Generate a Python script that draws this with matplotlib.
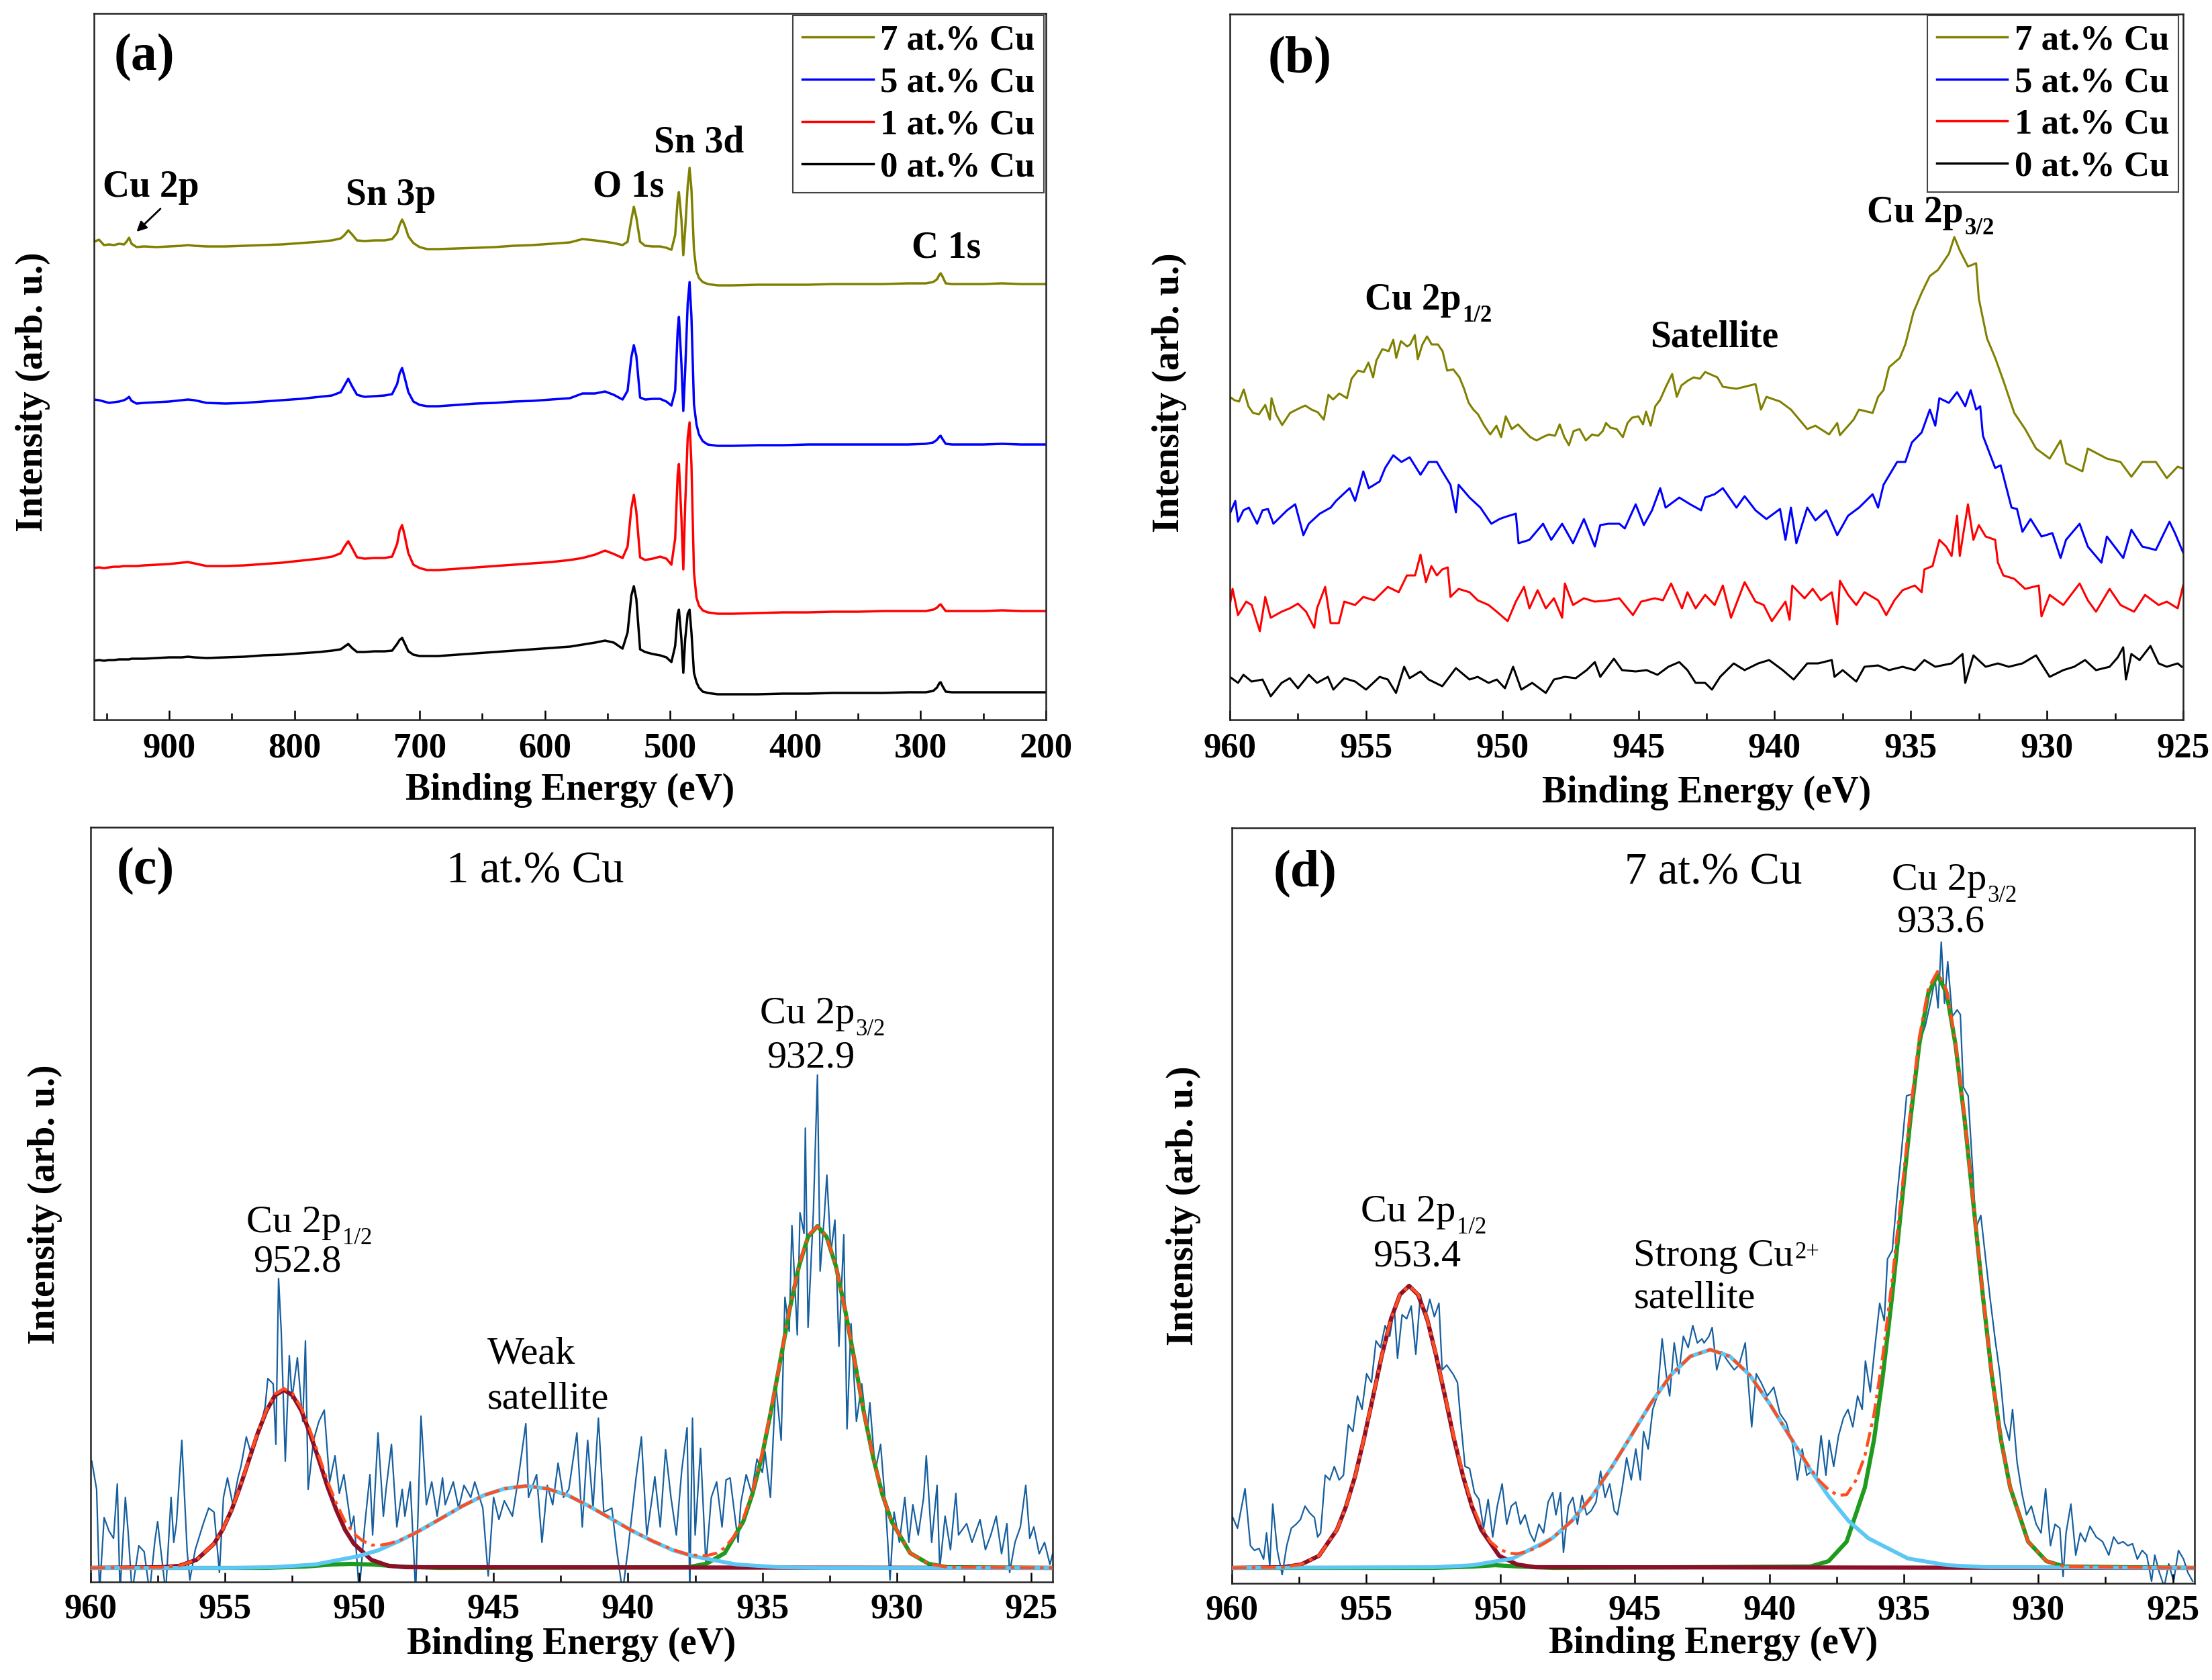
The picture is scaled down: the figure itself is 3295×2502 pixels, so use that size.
import matplotlib
matplotlib.use("Agg")
import matplotlib.pyplot as plt
from matplotlib.lines import Line2D
from matplotlib.ticker import MultipleLocator

plt.rcParams["font.family"] = "Liberation Serif"
plt.rcParams["font.weight"] = "bold"
plt.rcParams["axes.linewidth"] = 1.8

# ---------------- (a) survey spectra, binding energy (eV) vs intensity (arb.)
survey_be = [960, 956, 952, 948, 944, 940, 936, 934, 932, 930,
             926, 920, 910, 900, 890, 885, 880, 870, 855, 840,
             825, 810, 795, 780, 770, 763, 760, 757, 754, 750,
             744, 736, 728, 722, 718, 716, 714, 712, 709, 705,
             700, 694, 685, 670, 655, 640, 625, 610, 595, 580,
             570, 560, 552, 545, 538, 534, 531, 529, 527, 524,
             520, 514, 508, 503, 499, 496, 494, 493, 491, 489.5,
             488, 486, 484.5, 483, 481, 479, 477, 474, 470, 462,
             450, 430, 410, 390, 370, 350, 330, 310, 296, 290,
             287, 285, 284, 282.5, 280, 275, 265, 250, 235, 220,
             200]
survey_7 = [712, 715, 707, 708, 707, 709, 708, 712, 718, 709,
            704, 705, 704, 705, 706, 707, 706, 705, 705, 706,
            707, 708, 710, 712, 714, 717, 722, 729, 723, 714,
            713, 714, 714, 716, 725, 737, 745, 737, 720, 710,
            704, 701, 701, 702, 703, 704, 706, 707, 709, 711,
            716, 714, 712, 710, 707, 712, 745, 764, 748, 712,
            706, 705, 705, 703, 700, 722, 775, 786, 745, 692,
            730, 795, 822, 790, 700, 668, 658, 652, 649, 647,
            647, 648, 648, 648, 649, 649, 649, 650, 650, 652,
            656, 663, 665, 660, 650, 649, 649, 649, 650, 649,
            649]
survey_5 = [477, 476, 474, 472, 473, 474, 476, 478, 481, 475,
            471, 472, 473, 474, 476, 477, 476, 472, 471, 472,
            474, 476, 478, 481, 483, 488, 498, 508, 497, 484,
            481, 482, 483, 485, 500, 516, 524, 510, 488, 474,
            469, 467, 467, 469, 471, 472, 474, 475, 477, 479,
            486, 486, 489, 484, 477, 490, 540, 558, 542, 480,
            477, 478, 478, 474, 468, 490, 580, 600, 530, 460,
            520, 620, 652, 600, 470, 440, 425, 415, 410, 408,
            408, 409, 409, 410, 410, 410, 410, 410, 411, 413,
            417, 422, 423, 418, 411, 410, 410, 410, 411, 410,
            410]
survey_1 = [226, 227, 226, 227, 228, 228, 229, 229, 229, 229,
            229, 230, 231, 232, 234, 235, 233, 229, 229, 230,
            232, 234, 237, 240, 243, 248, 258, 266, 256, 242,
            240, 241, 241, 243, 262, 282, 290, 275, 248, 231,
            226, 223, 223, 225, 227, 229, 231, 233, 235, 238,
            241, 246, 252, 247, 241, 258, 315, 335, 310, 242,
            238, 240, 243, 240, 231, 270, 365, 381, 300, 224,
            320, 420, 443, 380, 220, 182, 170, 163, 160, 158,
            158, 159, 160, 160, 161, 161, 162, 162, 162, 164,
            167, 171, 172, 168, 162, 162, 162, 162, 163, 162,
            162]
survey_0 = [88, 89, 88, 89, 89, 90, 90, 90, 90, 91,
            91, 91, 92, 93, 93, 94, 93, 92, 93, 94,
            96, 97, 99, 101, 103, 105, 109, 113, 107, 101,
            101, 102, 102, 103, 113, 119, 122, 114, 102, 97,
            95, 95, 95, 97, 99, 101, 103, 105, 107, 109,
            112, 115, 118, 115, 106, 130, 185, 199, 180, 105,
            101, 98, 96, 93, 86, 110, 158, 164, 120, 70,
            120, 158, 164, 130, 70, 56, 48, 42, 40, 38,
            38, 38, 39, 39, 40, 40, 40, 41, 41, 43,
            48, 55, 56, 50, 42, 41, 41, 41, 41, 41,
            41]

# ---------------- (b) Cu 2p region, (BE, intensity) pairs
cu2p_7 = [(960.0, 481), (959.83, 476), (959.66, 474), (959.49, 492), (959.32, 467), (959.15, 457),
          (958.93, 455), (958.7, 469), (958.53, 447), (958.47, 479), (958.3, 455), (958.08, 439),
          (957.79, 457), (957.45, 464), (957.23, 468), (957.0, 462), (956.77, 458), (956.55, 447),
          (956.38, 484), (956.21, 477), (955.98, 486), (955.7, 479), (955.53, 508), (955.3, 520),
          (955.08, 518), (954.91, 532), (954.74, 510), (954.62, 535), (954.4, 552), (954.17, 549),
          (954.0, 566), (953.89, 539), (953.72, 564), (953.49, 556), (953.38, 559), (953.21, 573),
          (953.1, 537), (952.93, 559), (952.76, 571), (952.59, 559), (952.36, 559), (952.19, 549),
          (952.02, 520), (951.8, 522), (951.57, 510), (951.4, 493), (951.23, 472), (951.06, 462),
          (950.89, 455), (950.66, 438), (950.44, 425), (950.21, 438), (950.04, 421), (949.87, 452),
          (949.65, 433), (949.42, 440), (949.19, 430), (948.97, 421), (948.74, 416), (948.51, 421),
          (948.29, 425), (948.06, 423), (947.89, 440), (947.72, 421), (947.55, 409), (947.38, 430),
          (947.16, 433), (946.93, 416), (946.7, 425), (946.48, 423), (946.31, 430), (946.19, 442),
          (946.02, 435), (945.8, 433), (945.57, 421), (945.4, 442), (945.23, 450), (945.0, 452),
          (944.83, 440), (944.72, 459), (944.55, 438), (944.38, 467), (944.21, 476), (943.99, 496),
          (943.76, 515), (943.59, 481), (943.42, 498), (943.19, 505), (942.97, 510), (942.74, 508),
          (942.55, 518), (942.1, 510), (941.9, 496), (941.4, 493), (940.7, 500), (940.5, 462),
          (940.3, 481), (939.8, 474), (939.4, 462), (938.8, 433), (938.5, 438), (938.0, 425),
          (937.7, 442), (937.6, 424), (937.1, 447), (936.9, 462), (936.4, 457), (936.2, 481),
          (936.0, 491), (935.8, 525), (935.4, 539), (935.2, 559), (934.9, 607), (934.6, 636),
          (934.3, 661), (934.0, 670), (933.6, 694), (933.4, 719), (933.2, 699), (932.9, 675),
          (932.6, 680), (932.5, 627), (932.2, 568), (931.9, 539), (931.6, 505), (931.2, 457),
          (930.8, 433), (930.4, 404), (929.9, 389), (929.5, 416), (929.3, 382), (928.7, 370),
          (928.5, 404), (927.8, 389), (927.3, 384), (926.9, 362), (926.5, 384), (926.0, 384),
          (925.6, 360), (925.2, 377), (925.0, 374)]
cu2p_5 = [(960.0, 307), (959.8, 326), (959.7, 295), (959.5, 312), (959.3, 316), (959.0, 292),
          (958.8, 312), (958.6, 314), (958.4, 292), (957.9, 312), (957.6, 321), (957.3, 275),
          (957.1, 292), (956.7, 307), (956.3, 316), (956.1, 326), (955.6, 345), (955.4, 326),
          (955.1, 370), (954.9, 345), (954.5, 355), (954.3, 375), (954.0, 394), (953.7, 384),
          (953.4, 391), (953.0, 365), (952.7, 384), (952.4, 384), (952.2, 370), (951.9, 350),
          (951.7, 309), (951.6, 350), (951.2, 331), (950.8, 316), (950.4, 292), (950.1, 299),
          (949.9, 302), (949.5, 307), (949.4, 263), (949.0, 268), (948.5, 292), (948.2, 268),
          (947.8, 292), (947.4, 263), (947.0, 299), (946.6, 258), (946.4, 290), (946.1, 292),
          (945.7, 292), (945.5, 285), (945.1, 321), (944.8, 290), (944.5, 312), (944.2, 345),
          (944.0, 316), (943.5, 331), (943.1, 321), (942.7, 312), (942.55, 331), (942.2, 336),
          (941.9, 345), (941.4, 316), (941.1, 333), (940.7, 312), (940.3, 299), (939.8, 314),
          (939.6, 268), (939.4, 316), (939.2, 263), (938.8, 316), (938.5, 297), (938.1, 312),
          (937.7, 275), (937.3, 304), (936.9, 316), (936.4, 336), (936.2, 316), (936.0, 350),
          (935.5, 384), (935.2, 384), (934.96, 413), (934.6, 428), (934.3, 462), (934.1, 438),
          (933.95, 479), (933.6, 472), (933.3, 488), (933.0, 467), (932.8, 491), (932.6, 462),
          (932.45, 467), (932.35, 423), (931.9, 375), (931.7, 379), (931.3, 316), (931.1, 314),
          (930.9, 280), (930.6, 299), (930.2, 273), (929.8, 278), (929.5, 241), (929.3, 268),
          (928.8, 292), (928.5, 258), (928.0, 234), (927.8, 273), (927.2, 241), (926.9, 283),
          (926.5, 258), (926.0, 253), (925.5, 295), (925.3, 278), (925.0, 249)]
cu2p_1 = [(960.0, 171), (959.9, 195), (959.7, 156), (959.4, 176), (959.2, 171), (958.9, 132),
          (958.7, 183), (958.5, 152), (958.1, 161), (957.8, 166), (957.5, 173), (957.2, 161),
          (956.9, 137), (956.8, 166), (956.5, 198), (956.3, 144), (956.0, 144), (955.8, 176),
          (955.4, 171), (955.1, 183), (954.7, 178), (954.5, 186), (954.2, 198), (953.8, 190),
          (953.5, 215), (953.2, 215), (953.0, 246), (952.8, 205), (952.6, 229), (952.4, 215),
          (952.2, 224), (952.0, 227), (951.9, 183), (951.6, 195), (951.2, 190), (950.9, 178),
          (950.5, 171), (950.2, 161), (949.8, 147), (949.5, 176), (949.2, 198), (949.0, 166),
          (948.7, 193), (948.4, 166), (948.1, 181), (947.8, 152), (947.7, 203), (947.4, 171),
          (947.0, 181), (946.6, 176), (946.1, 178), (945.7, 181), (945.2, 156), (944.9, 176),
          (944.4, 181), (944.1, 178), (943.8, 203), (943.4, 166), (943.2, 190), (942.9, 166),
          (942.55, 186), (942.2, 171), (941.9, 200), (941.6, 152), (941.1, 205), (940.7, 176),
          (940.4, 171), (940.1, 147), (939.6, 176), (939.45, 149), (939.35, 200), (938.9, 181),
          (938.6, 195), (938.3, 178), (937.9, 190), (937.7, 142), (937.6, 207), (937.3, 186),
          (937.0, 171), (936.7, 190), (936.2, 178), (935.9, 156), (935.6, 178), (935.3, 193),
          (934.85, 200), (934.6, 190), (934.5, 224), (934.2, 229), (933.95, 268), (933.7, 258),
          (933.5, 244), (933.3, 304), (933.2, 244), (932.9, 321), (932.7, 268), (932.5, 290),
          (932.25, 273), (931.9, 268), (931.8, 234), (931.6, 215), (931.2, 210), (930.8, 195),
          (930.3, 200), (930.2, 154), (929.9, 186), (929.4, 171), (928.8, 203), (928.5, 178),
          (928.2, 161), (927.7, 195), (927.3, 171), (926.8, 161), (926.4, 186), (925.9, 171),
          (925.6, 176), (925.2, 166), (925.0, 200)]
cu2p_0 = [(960.0, 64), (959.7, 55), (959.5, 67), (959.2, 57), (958.8, 60), (958.5, 35),
          (958.1, 55), (957.8, 62), (957.5, 47), (957.1, 67), (956.8, 55), (956.4, 64),
          (956.2, 45), (955.8, 62), (955.4, 57), (955.0, 45), (954.5, 64), (954.2, 60),
          (953.9, 40), (953.6, 79), (953.4, 62), (953.0, 72), (952.7, 60), (952.2, 50),
          (951.7, 77), (951.2, 60), (950.9, 64), (950.5, 55), (950.2, 60), (949.9, 47),
          (949.6, 79), (949.3, 45), (948.9, 55), (948.4, 40), (948.1, 60), (947.7, 64),
          (947.3, 62), (946.9, 74), (946.6, 86), (946.4, 64), (945.9, 91), (945.6, 74),
          (945.1, 72), (944.7, 74), (944.3, 67), (943.9, 79), (943.5, 86), (943.2, 74),
          (942.9, 55), (942.55, 55), (942.3, 45), (942.0, 64), (941.5, 84), (941.1, 74),
          (940.6, 84), (940.2, 89), (939.7, 74), (939.3, 60), (938.8, 84), (938.4, 84),
          (937.9, 89), (937.8, 64), (937.5, 74), (937.0, 57), (936.7, 79), (936.2, 81),
          (935.8, 74), (935.3, 79), (934.85, 74), (934.5, 89), (934.1, 79), (933.5, 84),
          (933.1, 98), (933.0, 55), (932.7, 96), (932.25, 79), (931.8, 84), (931.4, 79),
          (930.9, 84), (930.4, 96), (929.9, 64), (929.4, 74), (929.0, 79), (928.6, 89),
          (928.2, 74), (927.7, 79), (927.4, 93), (927.2, 108), (927.1, 60), (926.9, 98),
          (926.6, 89), (926.2, 110), (925.9, 84), (925.6, 79), (925.2, 84), (925.05, 79)]

# ---------------- (c) 1 at.% Cu fit
c_raw = [(959.95, 180), (959.77, 138), (959.66, -15), (959.49, 96), (959.31, 76), (959.14, 65),
         (959.0, 146), (958.9, -15), (958.7, 126), (958.6, 76), (958.45, -15), (958.2, 54),
         (958.0, 45), (957.8, -15), (957.6, 62), (957.5, 90), (957.4, 54), (957.2, -15),
         (957.0, 126), (956.9, 59), (956.8, 87), (956.6, 211), (956.4, 45), (956.3, 3),
         (956.1, 48), (955.8, 87), (955.6, 110), (955.4, 104), (955.2, 14), (955.05, 126),
         (954.9, 155), (954.7, 115), (954.5, 157), (954.4, 172), (954.2, 216), (954.0, 188),
         (953.85, 211), (953.7, 228), (953.5, 261), (953.4, 303), (953.2, 295), (953.1, 205),
         (953.0, 452), (952.9, 373), (952.75, 180), (952.6, 337), (952.5, 273), (952.3, 334),
         (952.1, 239), (952.0, 359), (951.9, 138), (951.7, 211), (951.5, 239), (951.3, 256),
         (951.1, 149), (950.9, 188), (950.74, 132), (950.57, 160), (950.3, 82), (950.2, 98),
         (950.0, -15), (949.8, 82), (949.6, 160), (949.5, 70), (949.3, 222), (949.1, 98),
         (949.0, 138), (948.8, 205), (948.6, 82), (948.4, 138), (948.3, 98), (948.1, 149),
         (947.9, -15), (947.7, 247), (947.5, 115), (947.3, 149), (947.1, 98), (946.9, 155),
         (946.8, 115), (946.5, 149), (946.3, 110), (946.1, 144), (945.85, 126), (945.7, 149),
         (945.4, 110), (945.2, 9), (945.0, 126), (944.8, 93), (944.6, 121), (944.3, 98),
         (944.1, 149), (943.8, 236), (943.7, 126), (943.4, 160), (943.2, 59), (943.0, 144),
         (942.8, 115), (942.6, 177), (942.4, 126), (942.2, 138), (941.9, 222), (941.7, 82),
         (941.5, 211), (941.3, 110), (941.1, 244), (940.9, 104), (940.6, 110), (940.4, 42),
         (940.2, -15), (940.0, 48), (939.7, 155), (939.5, 216), (939.3, 70), (939.1, 126),
         (939.0, 157), (938.8, 82), (938.6, 197), (938.4, 126), (938.2, 70), (938.0, 166),
         (937.8, 230), (937.7, -15), (937.6, 244), (937.5, 70), (937.3, 199), (937.1, 26),
         (936.9, 126), (936.7, 149), (936.5, 82), (936.35, 152), (936.2, 155), (935.9, 59),
         (935.8, 118), (935.6, 160), (935.4, 132), (935.2, 183), (935.0, 163), (934.9, 194),
         (934.7, 126), (934.5, 295), (934.3, 211), (934.16, 424), (934.0, 373), (933.9, 531),
         (933.7, 368), (933.6, 550), (933.45, 519), (933.4, 676), (933.3, 379), (933.1, 553),
         (932.95, 755), (932.85, 463), (932.7, 542), (932.6, 606), (932.45, 491), (932.3, 539),
         (932.15, 351), (931.97, 517), (931.85, 228), (931.7, 385), (931.5, 239), (931.3, 295),
         (931.1, 222), (931.0, 267), (930.8, 166), (930.6, 205), (930.4, 104), (930.25, 3),
         (930.1, 104), (929.9, 59), (929.7, 126), (929.55, 59), (929.4, 115), (929.2, 70),
         (929.0, 126), (928.9, 188), (928.7, 59), (928.5, 144), (928.4, 20), (928.2, 98),
         (928.0, 48), (927.8, 132), (927.7, 70), (927.4, 87), (927.2, 59), (926.9, 93),
         (926.7, 48), (926.5, 70), (926.3, 98), (926.1, 42), (925.9, 87), (925.8, 14),
         (925.6, 59), (925.4, 82), (925.2, 144), (925.05, 65), (924.9, 82), (924.7, 42),
         (924.5, 59), (924.3, 26), (924.2, 42)]
c_p12 = [(960, 21), (957.35, 22), (956.7, 24), (956.05, 33), (955.4, 57), (955.08, 78),
         (954.75, 107), (954.43, 142), (954.1, 182), (953.78, 221), (953.45, 255), (953.13, 278),
         (952.8, 286), (952.48, 278), (952.15, 255), (951.83, 221), (951.5, 182), (951.18, 142),
         (950.85, 107), (950.53, 78), (950.2, 57), (949.55, 33), (948.9, 24), (948.25, 22),
         (924.2, 21)]
c_sat = [(960, 21), (954.79, 21), (953.22, 22), (951.65, 26), (950.08, 38), (949.3, 47),
         (948.51, 61), (947.73, 77), (946.94, 95), (946.16, 113), (945.37, 129), (944.59, 139),
         (943.8, 143), (943.01, 139), (942.23, 129), (941.45, 113), (940.66, 95), (939.88, 77),
         (939.09, 61), (938.31, 47), (937.52, 38), (935.95, 26), (934.38, 22), (932.81, 21),
         (924.2, 21)]
c_p32 = [(960, 21), (953.5, 21), (952, 23), (951, 26), (950.3, 27), (949.5, 26), (948.5, 23),
         (947, 21), (937.78, 22), (937.09, 27), (936.4, 43), (935.71, 90), (935.37, 131),
         (935.02, 186), (934.68, 254), (934.33, 330), (933.99, 405), (933.64, 470), (933.3, 514),
         (932.95, 530), (932.61, 514), (932.26, 470), (931.92, 405), (931.57, 330), (931.23, 254),
         (930.88, 186), (930.54, 131), (930.19, 90), (929.5, 43), (928.81, 27), (928.12, 22),
         (924.2, 21)]
c_env = [(960, 21), (957.35, 22), (956.7, 24), (956.05, 33), (955.4, 57), (955.08, 78),
         (954.75, 107), (954.43, 142), (954.1, 183), (953.78, 222), (953.45, 256), (953.13, 280),
         (952.8, 288), (952.48, 281), (952.15, 259), (951.83, 226), (951.5, 188), (951.18, 150),
         (950.85, 117), (950.53, 90), (950.2, 72), (949.9, 62), (949.55, 55), (949.2, 55),
         (948.9, 57), (948.5, 62), (948.0, 71), (947.5, 82), (946.94, 95), (946.16, 113),
         (945.37, 129), (944.59, 139), (943.8, 143), (943.01, 139), (942.23, 129), (941.45, 113),
         (940.66, 95), (939.88, 77), (939.09, 61), (938.31, 48), (937.78, 41), (937.52, 40),
         (937.09, 39), (936.7, 43), (936.4, 51), (936.05, 68), (935.71, 94), (935.37, 134),
         (935.02, 189), (934.68, 256), (934.33, 331), (933.99, 406), (933.64, 471), (933.3, 516),
         (932.95, 530), (932.61, 514), (932.26, 470), (931.92, 405), (931.57, 330), (931.23, 254),
         (930.88, 186), (930.54, 131), (930.19, 90), (929.5, 43), (928.81, 27), (928.12, 22),
         (924.2, 21)]

# ---------------- (d) 7 at.% Cu fit
d_raw = [(960.0, 102), (959.78, 82), (959.5, 141), (959.3, 56), (959.15, 49), (958.98, 52),
         (958.81, 36), (958.7, 75), (958.58, 26), (958.47, 118), (958.3, 49), (958.12, 13),
         (957.95, 56), (957.78, 82), (957.6, 88), (957.44, 95), (957.27, 115), (957.1, 105),
         (956.92, 98), (956.8, 69), (956.69, 75), (956.52, 161), (956.35, 154), (956.18, 174),
         (956.0, 154), (955.84, 161), (955.66, 236), (955.49, 226), (955.32, 279), (955.15, 259),
         (954.98, 312), (954.8, 299), (954.63, 361), (954.46, 351), (954.29, 384), (954.12, 368),
         (953.95, 410), (953.83, 335), (953.66, 400), (953.49, 394), (953.32, 413), (953.15, 341),
         (952.98, 430), (952.8, 394), (952.63, 423), (952.46, 397), (952.29, 417), (952.17, 318),
         (952.0, 325), (951.77, 312), (951.6, 299), (951.49, 246), (951.32, 174), (951.15, 171),
         (950.97, 135), (950.8, 125), (950.63, 82), (950.46, 125), (950.29, 69), (950.12, 115),
         (949.94, 148), (949.77, 88), (949.6, 115), (949.43, 121), (949.26, 88), (949.09, 102),
         (948.91, 75), (948.74, 62), (948.57, 88), (948.4, 75), (948.23, 121), (948.06, 135),
         (947.94, 102), (947.77, 135), (947.66, 46), (947.48, 115), (947.31, 128), (947.14, 88),
         (946.97, 131), (946.8, 102), (946.63, 108), (946.45, 121), (946.28, 167), (946.11, 128),
         (945.94, 148), (945.77, 108), (945.65, 102), (945.48, 141), (945.31, 187), (945.14, 154),
         (944.97, 200), (944.8, 154), (944.68, 226), (944.51, 200), (944.34, 259), (944.17, 279),
         (943.99, 364), (943.82, 305), (943.71, 279), (943.54, 358), (943.37, 312), (943.2, 368),
         (943.02, 351), (942.85, 384), (942.68, 358), (942.51, 364), (942.43, 358), (942.25, 368),
         (942.13, 381), (941.96, 318), (941.78, 345), (941.55, 331), (941.31, 318), (941.13, 325),
         (940.9, 358), (940.66, 233), (940.49, 312), (940.31, 299), (940.08, 279), (939.84, 292),
         (939.61, 253), (939.37, 239), (939.14, 207), (938.96, 154), (938.78, 200), (938.61, 161),
         (938.43, 167), (938.25, 154), (938.08, 220), (937.9, 161), (937.78, 213), (937.61, 174),
         (937.43, 220), (937.25, 246), (937.08, 259), (936.9, 233), (936.72, 279), (936.55, 259),
         (936.43, 331), (936.25, 285), (936.08, 351), (935.9, 417), (935.73, 391), (935.61, 483),
         (935.43, 496), (935.26, 574), (935.08, 647), (934.9, 726), (934.67, 729), (934.55, 778),
         (934.37, 811), (934.2, 831), (934.02, 864), (933.84, 900), (933.73, 857), (933.61, 955),
         (933.49, 864), (933.37, 926), (933.2, 844), (933.02, 854), (932.9, 847), (932.79, 739),
         (932.61, 726), (932.43, 607), (932.32, 529), (932.14, 548), (931.96, 483), (931.79, 423),
         (931.61, 364), (931.43, 312), (931.26, 239), (931.08, 213), (930.96, 259), (930.79, 180),
         (930.61, 134), (930.44, 102), (930.26, 115), (930.08, 88), (929.9, 75), (929.73, 141),
         (929.55, 56), (929.38, 88), (929.2, 82), (929.08, 10), (928.97, 75), (928.79, 118),
         (928.61, 42), (928.44, 75), (928.26, 62), (928.08, 85), (927.85, 69), (927.61, 62),
         (927.38, 42), (927.2, 69), (927.03, 59), (926.85, 62), (926.67, 56), (926.5, 59),
         (926.32, 36), (926.14, 49), (925.97, 42), (925.79, 3), (925.67, 42), (925.5, 16),
         (925.32, -5), (925.15, 29), (924.97, 3), (924.79, 49), (924.6, 36), (924.44, 16),
         (924.26, 3)]
d_p12 = [(960, 23), (958.09, 24), (957.42, 28), (956.75, 41), (956.08, 80), (955.75, 114),
         (955.41, 159), (955.08, 215), (954.74, 278), (954.41, 340), (954.07, 394), (953.74, 430),
         (953.4, 443), (953.07, 430), (952.73, 394), (952.4, 340), (952.06, 278), (951.73, 215),
         (951.39, 159), (951.06, 114), (950.72, 80), (950.05, 41), (949.38, 28), (948.71, 24),
         (924.2, 23)]
d_sat = [(960, 23), (952.49, 24), (951.02, 27), (949.55, 37), (948.08, 67), (947.35, 93),
         (946.61, 129), (945.88, 172), (945.14, 220), (944.41, 268), (943.67, 310), (942.94, 338),
         (942.2, 348), (941.47, 338), (940.73, 310), (940.0, 268), (939.26, 220), (938.53, 172),
         (937.79, 129), (937.06, 93), (936.32, 67), (934.85, 37), (933.38, 27), (931.91, 24),
         (924.2, 23)]
d_p32 = [(960, 23), (952.5, 23), (951, 25), (950.2, 27), (949.3, 25), (948, 23), (938.48, 25),
         (937.8, 33), (937.13, 62), (936.45, 143), (936.11, 214), (935.78, 310), (935.44, 427),
         (935.1, 559), (934.76, 690), (934.43, 802), (934.09, 879), (933.75, 906), (933.41, 879),
         (933.08, 802), (932.74, 690), (932.4, 559), (932.06, 427), (931.73, 310), (931.39, 214),
         (931.05, 143), (930.38, 62), (929.7, 33), (929.03, 25), (924.2, 23)]
d_env = [(960, 23), (958.09, 24), (957.42, 28), (956.75, 41), (956.08, 80), (955.75, 114),
         (955.41, 159), (955.08, 215), (954.74, 278), (954.41, 340), (954.07, 394), (953.74, 430),
         (953.4, 443), (953.07, 431), (952.73, 394), (952.4, 341), (952.06, 279), (951.73, 217),
         (951.39, 162), (951.06, 117), (950.72, 85), (950.38, 62), (950.05, 51), (949.7, 45),
         (949.38, 44), (949.05, 47), (948.71, 52), (948.35, 60), (948.08, 67), (947.35, 93),
         (946.61, 129), (945.88, 172), (945.14, 220), (944.41, 268), (943.67, 310), (942.94, 338),
         (942.2, 348), (941.47, 338), (940.73, 310), (940.0, 268), (939.26, 220), (938.53, 174),
         (938.15, 153), (937.79, 139), (937.45, 131), (937.13, 132), (936.79, 153), (936.45, 190),
         (936.11, 252), (935.78, 340), (935.44, 450), (935.1, 576), (934.76, 703), (934.43, 812),
         (934.09, 886), (933.75, 911), (933.41, 883), (933.08, 805), (932.74, 692), (932.4, 560),
         (932.06, 428), (931.73, 310), (931.39, 214), (931.05, 143), (930.38, 62), (929.7, 33),
         (929.03, 25), (924.2, 23)]

samples = ["7 at.% Cu", "5 at.% Cu", "1 at.% Cu", "0 at.% Cu"]
sample_colors = ["#808000", "#0000ff", "#ff0000", "#000000"]

RAW_C = "#165f9f"
P12_C = "#8b1028"
P32_C = "#1e9b1e"
SAT_C = "#5cc6f4"
ENV_C = "#ff4d1f"


def unzip(pairs):
    return [p[0] for p in pairs], [p[1] for p in pairs]


def setup(ax, lo, hi, major, minor, top, pad, xlab_y, ylab_x, ylab_y):
    ax.set_xlim(lo, hi)
    ax.set_ylim(0, top)
    ax.xaxis.set_major_locator(MultipleLocator(major))
    ax.xaxis.set_minor_locator(MultipleLocator(minor))
    ax.set_yticks([])
    ax.tick_params(axis="x", which="both", direction="in", width=1.8, labelsize=38, pad=pad)
    ax.tick_params(axis="x", which="major", length=10)
    ax.tick_params(axis="x", which="minor", length=7)
    for s in ax.spines.values():
        s.set_color("#222222")
    ax.set_xlabel("Binding Energy (eV)", fontsize=40, fontweight="bold")
    ax.set_ylabel("Intensity (arb. u.)", fontsize=40, fontweight="bold")
    ax.xaxis.set_label_coords(0.5, xlab_y)
    ax.yaxis.set_label_coords(ylab_x, ylab_y)


def sample_legend(ax, anchor):
    handles = [Line2D([], [], color=c, lw=2.5) for c in sample_colors]
    ax.legend(handles, samples, loc="upper right", bbox_to_anchor=anchor,
              prop={"size": 38, "weight": "bold"}, frameon=True, fancybox=False,
              edgecolor="#444444", framealpha=1, borderpad=0.26, borderaxespad=0,
              handlelength=2.0, handletextpad=0.2, labelspacing=0.28)
    ax.get_legend().get_frame().set_linewidth(1.5)


def label(ax, x, y, main, small, size, weight, small_size, sup=False):
    # main text plus a small sub- or superscript placed right after it
    t = ax.text(x, y, main, fontsize=size, fontweight=weight)
    if sup:
        ax.annotate(small, xy=(1, 1), xycoords=t, xytext=(1, -3),
                    textcoords="offset points", fontsize=small_size,
                    fontweight=weight, ha="left", va="top")
    else:
        ax.annotate(small, xy=(1, 0), xycoords=t, xytext=(1, -4),
                    textcoords="offset points", fontsize=small_size,
                    fontweight=weight, ha="left", va="baseline")


fig = plt.figure(figsize=(32.95, 25.02), dpi=100)

# ---------------- (a)
ax = fig.add_axes([0.04249, 0.57154, 0.43035, 0.42046])
for ys, col in zip([survey_7, survey_5, survey_1, survey_0], sample_colors):
    ax.plot(survey_be, ys, color=col, lw=2.5)
setup(ax, 960, 200, 100, 50, 1052, 13, -0.075, -0.046, 0.464)
sample_legend(ax, (0.998, 0.997))
ax.text(943.9, 968, "(a)", fontsize=56, fontweight="bold")
ax.text(953.2, 779, "Cu 2p", fontsize=40, fontweight="bold")
ax.text(759, 767, "Sn 3p", fontsize=40, fontweight="bold")
ax.text(561.8, 780, "O 1s", fontsize=40, fontweight="bold")
ax.text(513, 846, "Sn 3d", fontsize=40, fontweight="bold")
ax.text(307.4, 689, "C 1s", fontsize=40, fontweight="bold")
ax.annotate("", xy=(927.1, 725), xytext=(905.9, 763),
            arrowprops=dict(arrowstyle="-|>", color="black", lw=2, mutation_scale=22))

# ---------------- (b)
ax = fig.add_axes([0.55599, 0.57154, 0.43096, 0.41987])
for pairs, col in zip([cu2p_7, cu2p_5, cu2p_1, cu2p_0], sample_colors):
    xs, ys = unzip(pairs)
    ax.plot(xs, ys, color=col, lw=2.2)
setup(ax, 960, 925, 5, 2.5, 1050.5, 13, -0.079, -0.045, 0.464)
sample_legend(ax, (0.995, 0.999))
ax.text(958.6, 964, "(b)", fontsize=56, fontweight="bold")
label(ax, 955.05, 611, "Cu 2p", "1/2", 40, "bold", 25)
ax.text(944.57, 555, "Satellite", fontsize=40, fontweight="bold")
label(ax, 936.6, 741, "Cu 2p", "3/2", 40, "bold", 25)


def fit_panel(ax, raw, p12, p32, sat, env):
    xs, ys = unzip(raw)
    ax.plot(xs, ys, color=RAW_C, lw=1.6, zorder=1)
    xs, ys = unzip(p32)
    ax.plot(xs, ys, color=P32_C, lw=4.5, zorder=2)
    xs, ys = unzip(p12)
    ax.plot(xs, ys, color=P12_C, lw=4.5, zorder=3)
    xs, ys = unzip(sat)
    ax.plot(xs, ys, color=SAT_C, lw=4.2, zorder=4)
    xs, ys = unzip(env)
    ax.plot(xs, ys, color=ENV_C, lw=3.2, ls=(0, (5, 1.8, 1.2, 1.8)), zorder=5)


# ---------------- (c)
ax = fig.add_axes([0.04088, 0.05835, 0.43499, 0.44940])
fit_panel(ax, c_raw, c_p12, c_p32, c_sat, c_env)
setup(ax, 960, 924.2, 5, 2.5, 1124.4, 12, -0.059, -0.029, 0.5)
ax.text(959.03, 1040, "(c)", fontsize=56, fontweight="bold")
ax.text(946.76, 1042, "1 at.% Cu", fontsize=48, fontweight="normal")
label(ax, 935.1, 832, "Cu 2p", "3/2", 42, "normal", 25)
ax.text(934.84, 767, "932.9", fontsize=42, fontweight="normal")
label(ax, 954.2, 521, "Cu 2p", "1/2", 42, "normal", 25)
ax.text(953.94, 463, "952.8", fontsize=42, fontweight="normal")
ax.text(945.23, 326, "Weak", fontsize=42, fontweight="normal")
ax.text(945.23, 259, "satellite", fontsize=42, fontweight="normal")

# ---------------- (d)
ax = fig.add_axes([0.55678, 0.05755, 0.43523, 0.44964])
fit_panel(ax, d_raw, d_p12, d_p32, d_sat, d_env)
setup(ax, 960, 924.2, 5, 2.5, 1125, 12, -0.057, -0.032, 0.5)
ax.text(958.46, 1038, "(d)", fontsize=56, fontweight="bold")
ax.text(945.39, 1042, "7 at.% Cu", fontsize=48, fontweight="normal")
label(ax, 935.46, 1033, "Cu 2p", "3/2", 42, "normal", 25)
ax.text(935.28, 971, "933.6", fontsize=42, fontweight="normal")
label(ax, 955.19, 539, "Cu 2p", "1/2", 42, "normal", 25)
ax.text(954.75, 473, "953.4", fontsize=42, fontweight="normal")
label(ax, 945.05, 473, "Strong Cu", "2+", 42, "normal", 25, sup=True)
ax.text(945.05, 411, "satellite", fontsize=42, fontweight="normal")

fig.savefig("out.png", dpi=100)
